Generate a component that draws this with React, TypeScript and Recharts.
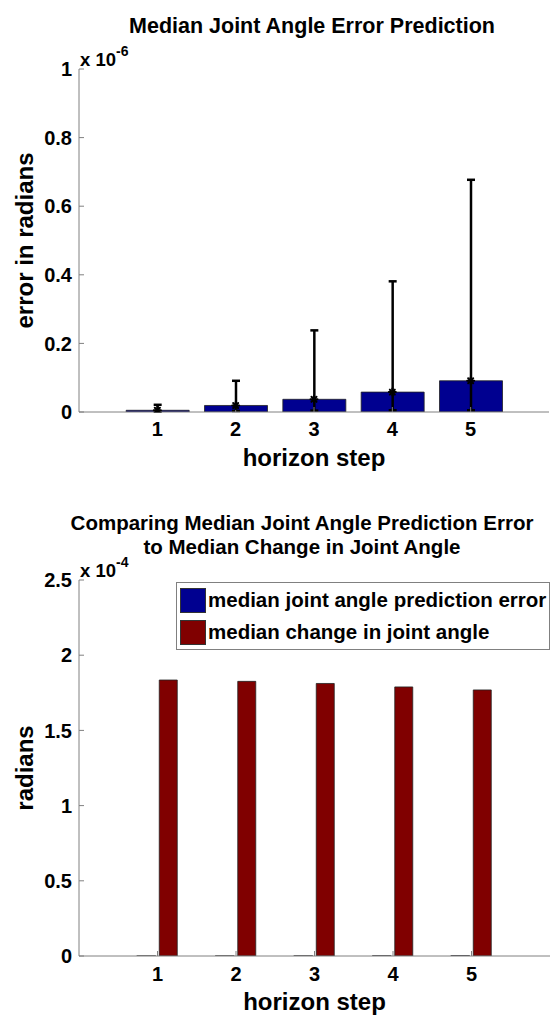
import React from 'react';
import { ComposedChart, Bar, XAxis, YAxis, ErrorBar, Scatter, Legend } from 'recharts';

// Horizon steps on the x axis (x limits 0..6)
const horizonSteps = [1, 2, 3, 4, 5];

// Upper panel, values in units of 1e-6 rad
const medianError = [0.005, 0.019, 0.037, 0.058, 0.091];
const errorLower = [0.001, 0.003, 0.004, 0.005, 0.005];
const errorUpper = [0.021, 0.091, 0.238, 0.381, 0.677];
const topYTicks = [0, 0.2, 0.4, 0.6, 0.8, 1];

// Lower panel, values in units of 1e-4 rad
const medianErrorE4 = [0.00005, 0.00019, 0.00037, 0.00058, 0.00091];
const medianChange = [1.835, 1.826, 1.812, 1.789, 1.769];
const bottomYTicks = [0, 0.5, 1, 1.5, 2, 2.5];

const seriesNames = ['median joint angle prediction error', 'median change in joint angle'];

const FONT = '"Liberation Sans", Arial, Helvetica, sans-serif';
const AXIS_GREY = '#808080';
const BLUE = '#000090';
const DARK_RED = '#800000';

const tickStyle = { fontSize: 20, fontWeight: 700, fill: '#000', fontFamily: FONT };

const topData = horizonSteps.map((step, i) => ({
  step,
  median: medianError[i],
  spread: [medianError[i] - errorLower[i], errorUpper[i] - medianError[i]],
}));

const bottomData = horizonSteps.map((step, i) => ({
  step,
  predError: medianErrorE4[i],
  change: medianChange[i],
}));

// Asterisk marker drawn at each median
const Asterisk = (props: any) => {
  const { cx, cy } = props;
  if (cx == null || cy == null) return null;
  const r = 3.5;
  const d = r * 0.72;
  return (
    <g stroke="#000" strokeWidth={2} strokeLinecap="round">
      <line x1={cx - r} y1={cy} x2={cx + r} y2={cy} />
      <line x1={cx} y1={cy - r} x2={cx} y2={cy + r} />
      <line x1={cx - d} y1={cy - d} x2={cx + d} y2={cy + d} />
      <line x1={cx - d} y1={cy + d} x2={cx + d} y2={cy - d} />
    </g>
  );
};

// Rotated y label plus the "x 10^n" exponent above the plot's top-left corner
const makeYLabel = (text: string, exponent: string) => (props: any) => {
  const vb = props.viewBox || {};
  const cy = vb.y + vb.height / 2;
  const plotLeft = vb.x + vb.width;
  const lx = vb.x + 33;
  return (
    <g fontFamily={FONT} fill="#000">
      <text
        x={lx}
        y={cy}
        transform={`rotate(-90, ${lx}, ${cy})`}
        textAnchor="middle"
        fontSize={24}
        fontWeight={700}
      >
        {text}
      </text>
      <text x={plotLeft + 1} y={vb.y - 3} fontSize={18.5} fontWeight={700}>
        x 10
        <tspan dy={-10} fontSize={14}>
          {exponent}
        </tspan>
      </text>
    </g>
  );
};

const xLabel = (props: any) => {
  const vb = props.viewBox || {};
  return (
    <text
      x={vb.x + vb.width / 2}
      y={vb.y + 54}
      textAnchor="middle"
      fontFamily={FONT}
      fontSize={24}
      fontWeight={700}
      fill="#000"
    >
      horizon step
    </text>
  );
};

const renderLegend = (props: any) => {
  const payload = [...(props.payload || [])].sort(
    (a: any, b: any) => seriesNames.indexOf(a.value) - seriesNames.indexOf(b.value)
  );
  return (
    <div
      style={{
        width: 374,
        height: 68,
        boxSizing: 'border-box',
        border: `1px solid ${AXIS_GREY}`,
        background: '#fff',
        fontFamily: FONT,
        fontWeight: 700,
        fontSize: 20.5,
        color: '#000',
        padding: '1px 0 0 3px',
      }}
    >
      {payload.map((entry: any) => (
        <div key={entry.value} style={{ display: 'flex', alignItems: 'center', height: 32, whiteSpace: 'nowrap' }}>
          <span
            style={{
              display: 'inline-block',
              width: 26,
              height: 25,
              background: entry.color,
              border: '1px solid #333',
              boxSizing: 'border-box',
              marginRight: 2,
              flex: 'none',
            }}
          />
          <span>{entry.value}</span>
        </div>
      ))}
    </div>
  );
};

const axisCommon = {
  stroke: AXIS_GREY,
  tickSize: -5,
  tickLine: { stroke: AXIS_GREY },
  axisLine: { stroke: AXIS_GREY },
};

function TopPanel() {
  return (
    <ComposedChart width={552} height={480} data={topData} margin={{ top: 69, right: 3, bottom: 0, left: 0 }}>
      <XAxis
        xAxisId="b"
        dataKey="step"
        type="number"
        domain={[0, 6]}
        allowDataOverflow
        ticks={horizonSteps}
        height={68}
        tickMargin={15}
        tick={tickStyle}
        label={{ content: xLabel }}
        {...axisCommon}
      />
      <XAxis
        xAxisId="t"
        orientation="top"
        type="number"
        domain={[0, 6]}
        allowDataOverflow
        ticks={horizonSteps}
        height={0}
        tick={false}
        {...axisCommon}
      />
      <YAxis
        yAxisId="l"
        type="number"
        domain={[0, 1]}
        allowDataOverflow
        ticks={topYTicks}
        width={79}
        tickMargin={12}
        tick={tickStyle}
        label={{ content: makeYLabel('error in radians', '-6') }}
        {...axisCommon}
      />
      <YAxis
        yAxisId="r"
        orientation="right"
        type="number"
        domain={[0, 1]}
        allowDataOverflow
        ticks={topYTicks}
        width={0}
        tick={false}
        {...axisCommon}
      />
      <Bar
        xAxisId="b"
        yAxisId="l"
        dataKey="median"
        fill={BLUE}
        stroke="#222"
        strokeWidth={0.8}
        barSize={63}
        isAnimationActive={false}
      >
        <ErrorBar dataKey="spread" direction="y" width={4} strokeWidth={2.5} stroke="#000" isAnimationActive={false} />
      </Bar>
      <Scatter xAxisId="b" yAxisId="l" dataKey="median" shape={Asterisk} isAnimationActive={false} />
    </ComposedChart>
  );
}

function BottomPanel() {
  return (
    <ComposedChart
      width={552}
      height={535}
      data={bottomData}
      barGap={4}
      margin={{ top: 100, right: 2, bottom: 0, left: 0 }}
    >
      <XAxis
        xAxisId="b"
        dataKey="step"
        type="number"
        domain={[0, 6]}
        allowDataOverflow
        ticks={horizonSteps}
        height={59}
        tickMargin={16}
        tick={tickStyle}
        label={{ content: xLabel }}
        {...axisCommon}
      />
      <XAxis
        xAxisId="t"
        orientation="top"
        type="number"
        domain={[0, 6]}
        allowDataOverflow
        ticks={horizonSteps}
        height={0}
        tick={false}
        {...axisCommon}
      />
      <YAxis
        yAxisId="l"
        type="number"
        domain={[0, 2.5]}
        allowDataOverflow
        ticks={bottomYTicks}
        width={79}
        tickMargin={12}
        tick={tickStyle}
        label={{ content: makeYLabel('radians', '-4') }}
        {...axisCommon}
      />
      <YAxis
        yAxisId="r"
        orientation="right"
        type="number"
        domain={[0, 2.5]}
        allowDataOverflow
        ticks={bottomYTicks}
        width={0}
        tick={false}
        {...axisCommon}
      />
      <Bar
        xAxisId="b"
        yAxisId="l"
        dataKey="predError"
        name={seriesNames[0]}
        fill={BLUE}
        stroke="#111"
        strokeWidth={1.2}
        barSize={18}
        isAnimationActive={false}
      />
      <Bar
        xAxisId="b"
        yAxisId="l"
        dataKey="change"
        name={seriesNames[1]}
        fill={DARK_RED}
        stroke="#222"
        strokeWidth={0.8}
        barSize={18}
        isAnimationActive={false}
      />
      <Legend
        layout="vertical"
        align="center"
        verticalAlign="middle"
        width={374}
        height={68}
        wrapperStyle={{ top: 102, left: 176 }}
        content={renderLegend}
      />
    </ComposedChart>
  );
}

export default function App() {
  return (
    <div style={{ position: 'absolute', left: 0, top: 0, width: 552, height: 1015, background: '#fff', overflow: 'hidden' }}>
      <div style={{ position: 'absolute', left: 0, top: 0 }}>
        <TopPanel />
      </div>
      <div style={{ position: 'absolute', left: 0, top: 480 }}>
        <BottomPanel />
      </div>
      <svg
        width={552}
        height={1015}
        style={{ position: 'absolute', left: 0, top: 0, pointerEvents: 'none' }}
        fontFamily={FONT}
        fontWeight={700}
        fill="#000"
      >
        <text x={312} y={33} textAnchor="middle" fontSize={21.5}>
          Median Joint Angle Error Prediction
        </text>
        <text x={302} y={530} textAnchor="middle" fontSize={20.5}>
          Comparing Median Joint Angle Prediction Error
        </text>
        <text x={302} y={554} textAnchor="middle" fontSize={20.5}>
          to Median Change in Joint Angle
        </text>
      </svg>
    </div>
  );
}
